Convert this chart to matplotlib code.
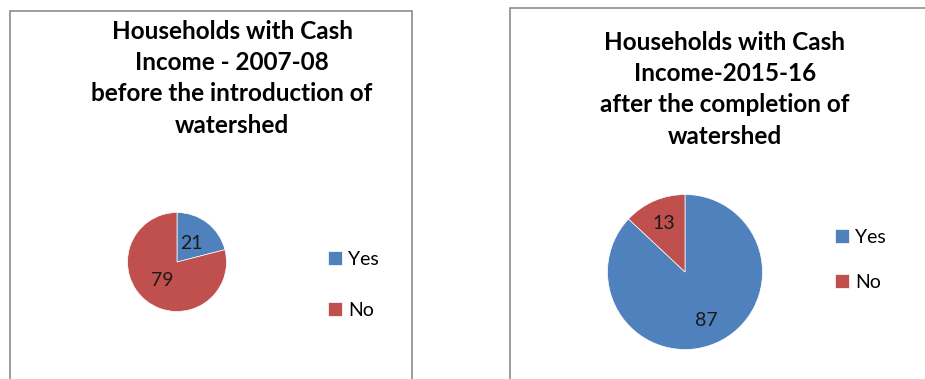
import matplotlib
matplotlib.use("Agg")
import matplotlib.pyplot as plt
from matplotlib.patches import Rectangle

W, H = 925, 379

categories = ["Yes", "No"]
values_2007 = [21, 79]
values_2015 = [87, 13]
title_2007 = "Households with Cash\nIncome - 2007-08\nbefore the introduction of\nwatershed"
title_2015 = "Households with Cash\nIncome-2015-16\nafter the completion of\nwatershed"

colors = ["#4F81BD", "#C0504D"]
plt.rcParams['font.family'] = ['Lato', 'DejaVu Sans']

fig = plt.figure(figsize=(W / 100, H / 100), dpi=100)
fig.patch.set_facecolor("white")


def px_box(x0, y0, x1, y1):
    # pixel box (top-left origin) -> figure fraction rect
    return [x0 / W, 1 - y1 / H, (x1 - x0) / W, (y1 - y0) / H]


def draw_panel(frame, title, title_xy, values, center, r, pctdist, leg_xy, legspace):
    fx0, fy0, fx1, fy1 = frame
    fig.patches.append(Rectangle((fx0 / W, 1 - fy1 / H), (fx1 - fx0) / W, (fy1 - fy0) / H,
                                 transform=fig.transFigure, fill=False,
                                 edgecolor="#8c8c8c", linewidth=1.2))
    fig.text(title_xy[0] / W, 1 - title_xy[1] / H, title, ha="center", va="top",
             fontsize=17.5, fontweight="bold", linespacing=1.43)

    cx, cy = center
    ax = fig.add_axes(px_box(cx - r, cy - r, cx + r, cy + r))
    wedges, _, autotexts = ax.pie(values, colors=colors, startangle=90, counterclock=False,
                                  radius=1, autopct=lambda p: f"{p:.0f}", pctdistance=pctdist,
                                  wedgeprops=dict(edgecolor="white", linewidth=0.5),
                                  textprops=dict(fontsize=14, color="#1a1a1a"))
    ax.set_xlim(-1, 1)
    ax.set_ylim(-1, 1)
    ax.set_aspect("equal")
    ax.axis("off")

    ax.legend(wedges, categories, loc="center left",
              bbox_to_anchor=(leg_xy[0] / W, 1 - leg_xy[1] / H),
              bbox_transform=fig.transFigure, frameon=False, fontsize=14,
              handlelength=0.7, handleheight=0.7, handletextpad=0.35,
              labelspacing=legspace, borderpad=0, borderaxespad=0)


draw_panel((10, 11, 412, 390), title_2007, (232, 20), values_2007,
           (177, 262), 49.5, 0.48, (328, 285), 1.75)
draw_panel((510, 8, 935, 390), title_2015, (725, 31), values_2015,
           (685, 272), 77.5, 0.68, (835, 260), 1.45)

fig.savefig("out.png", dpi=100, facecolor="white")
